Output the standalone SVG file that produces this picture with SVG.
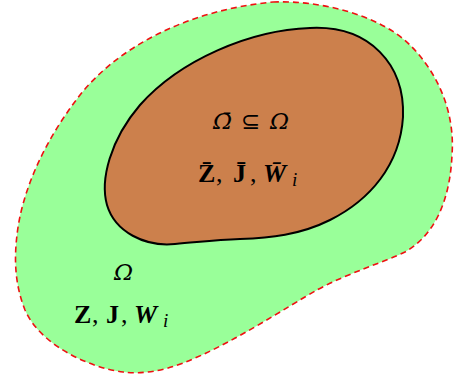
<svg xmlns="http://www.w3.org/2000/svg" width="455" height="381" viewBox="0 0 455 381">
<style>
text{font-family:"Liberation Serif","DejaVu Serif",serif;font-size:26px;fill:#000}
.it{font-style:italic}
.om{font-family:"DejaVu Serif","Liberation Serif",serif;font-style:italic;font-size:23px}
.bf{font-weight:bold}
.bi{font-weight:bold;font-style:italic}
.sub{font-style:italic;font-size:19px}
.rel{font-family:"DejaVu Sans","Liberation Serif",serif;font-size:23px}
</style>
<rect width="455" height="381" fill="#fff"/>
<g id="omega">
<path d="M 273 2 C 320 0, 380 15, 410 45 C 440 75, 455 115, 452 155 C 450 200, 435 235, 405 252 C 385 262, 350 272, 317 290 C 285 308, 230 345, 183 363 C 160 372, 140 374, 123 372 C 90 368, 40 345, 25 310 C 15 285, 14 260, 17 235 C 22 190, 45 140, 80 95 C 120 45, 190 10, 273 2 Z" fill="#99ff99" stroke="#ee1111" stroke-width="1.6" stroke-dasharray="6,4"/>
<text x="114" y="280" class="om">Ω</text>
<text y="323"><tspan x="74" class="bf">Z</tspan><tspan x="92">,</tspan><tspan x="106" class="bf">J</tspan><tspan x="121">,</tspan><tspan x="134" class="bi">W</tspan><tspan x="163" dy="4" class="sub">i</tspan></text>
</g>
<g id="omega-bar">
<path d="M 310 28 C 370 25, 405 65, 403 117 C 400 165, 370 200, 330 220 C 300 235, 270 238, 240 239 C 215 240, 200 242, 175 244 C 145 247, 115 232, 107 205 C 100 180, 110 140, 140 105 C 180 60, 250 30, 310 28 Z" fill="#cc804c" stroke="#000" stroke-width="2"/>
<text y="129"><tspan x="213" class="om">Ω̄</tspan><tspan x="241" class="rel">⊆</tspan><tspan x="270" class="om">Ω</tspan></text>
<text y="182"><tspan x="198" class="bf">Z̄</tspan><tspan x="216">,</tspan><tspan x="233" class="bf">J̄</tspan><tspan x="250">,</tspan><tspan x="263" class="bi">W̄</tspan><tspan x="292" dy="4" class="sub">i</tspan></text>
</g>
</svg>
